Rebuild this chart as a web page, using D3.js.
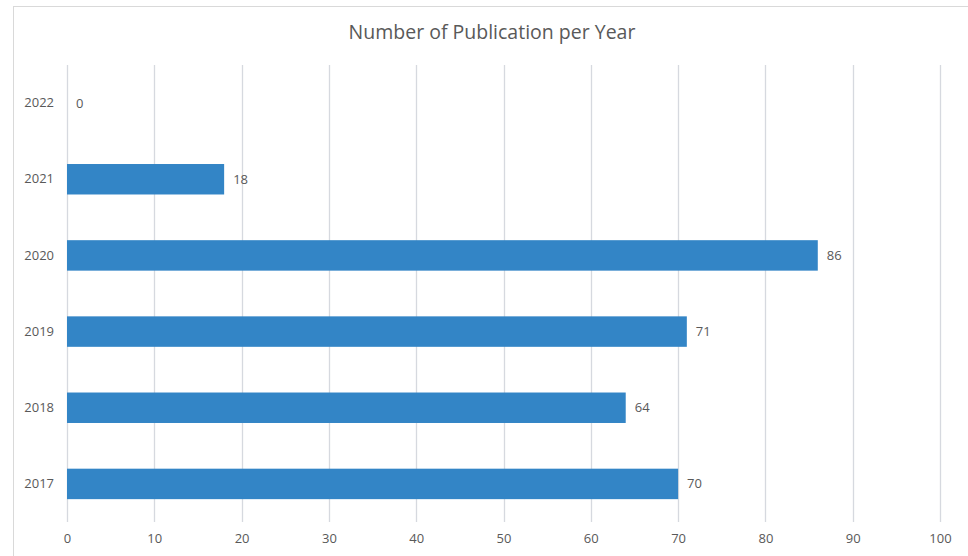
<!DOCTYPE html>
<html>
<head>
<meta charset="utf-8">
<script src="https://d3js.org/d3.v7.min.js"></script>
<style>
  body { margin: 0; background: #fff; }
  text { font-family: "Open Sans", "Liberation Sans", sans-serif; fill: #595959; }
</style>
</head>
<body>
<svg id="chart"></svg>
<script>
const years = ["2022", "2021", "2020", "2019", "2018", "2017"];
const counts = [0, 18, 86, 71, 64, 70];
const xTicks = [0, 10, 20, 30, 40, 50, 60, 70, 80, 90, 100];

const width = 968;
const height = 556;
const margin = { top: 65, right: 28, bottom: 34, left: 67 };

const svg = d3.select("#chart")
    .attr("width", width)
    .attr("height", height);

// chart area border (runs off the right/bottom edge)
svg.append("rect")
    .attr("x", 13.5)
    .attr("y", 6.5)
    .attr("width", 1000)
    .attr("height", 600)
    .attr("fill", "none")
    .attr("stroke", "#d9d9d9");

svg.append("text")
    .attr("x", 492)
    .attr("y", 39)
    .attr("text-anchor", "middle")
    .attr("font-size", 19.5)
    .text("Number of Publication per Year");

const x = d3.scaleLinear()
    .domain([0, 100])
    .range([margin.left, 940]);

const y = d3.scaleBand()
    .domain(years)
    .range([margin.top, height - margin.bottom])
    .paddingInner(0.6)
    .paddingOuter(0.3);

// gridlines
svg.append("g")
    .selectAll("line")
    .data(xTicks)
    .join("line")
    .attr("x1", d => Math.round(x(d)) + 0.5)
    .attr("x2", d => Math.round(x(d)) + 0.5)
    .attr("y1", margin.top)
    .attr("y2", height - margin.bottom)
    .attr("stroke", "#d6d9df")
    .attr("stroke-width", 1.3);

// x axis labels
const xAxis = svg.append("g")
    .attr("transform", `translate(0,${height - margin.bottom})`)
    .call(d3.axisBottom(x).tickValues(xTicks).tickSize(0).tickPadding(12));
xAxis.select(".domain").remove();
xAxis.selectAll("text")
    .attr("font-size", 13)
    .attr("fill", "#595959")
    .style("font-family", "'Open Sans', 'Liberation Sans', sans-serif");

// y axis labels
const yAxis = svg.append("g")
    .attr("transform", `translate(${margin.left},0)`)
    .call(d3.axisLeft(y).tickSize(0).tickPadding(13));
yAxis.select(".domain").remove();
yAxis.selectAll("text")
    .attr("font-size", 13)
    .attr("fill", "#595959")
    .style("font-family", "'Open Sans', 'Liberation Sans', sans-serif");

// bars
svg.append("g")
    .selectAll("rect")
    .data(years)
    .join("rect")
    .attr("x", x(0))
    .attr("y", d => y(d))
    .attr("width", (d, i) => x(counts[i]) - x(0))
    .attr("height", y.bandwidth())
    .attr("fill", "#3385c6");

// value labels
svg.append("g")
    .selectAll("text")
    .data(years)
    .join("text")
    .attr("x", (d, i) => x(counts[i]) + 9)
    .attr("y", d => y(d) + y.bandwidth() / 2)
    .attr("dy", "0.35em")
    .attr("font-size", 13)
    .text((d, i) => counts[i]);
</script>
</body>
</html>
